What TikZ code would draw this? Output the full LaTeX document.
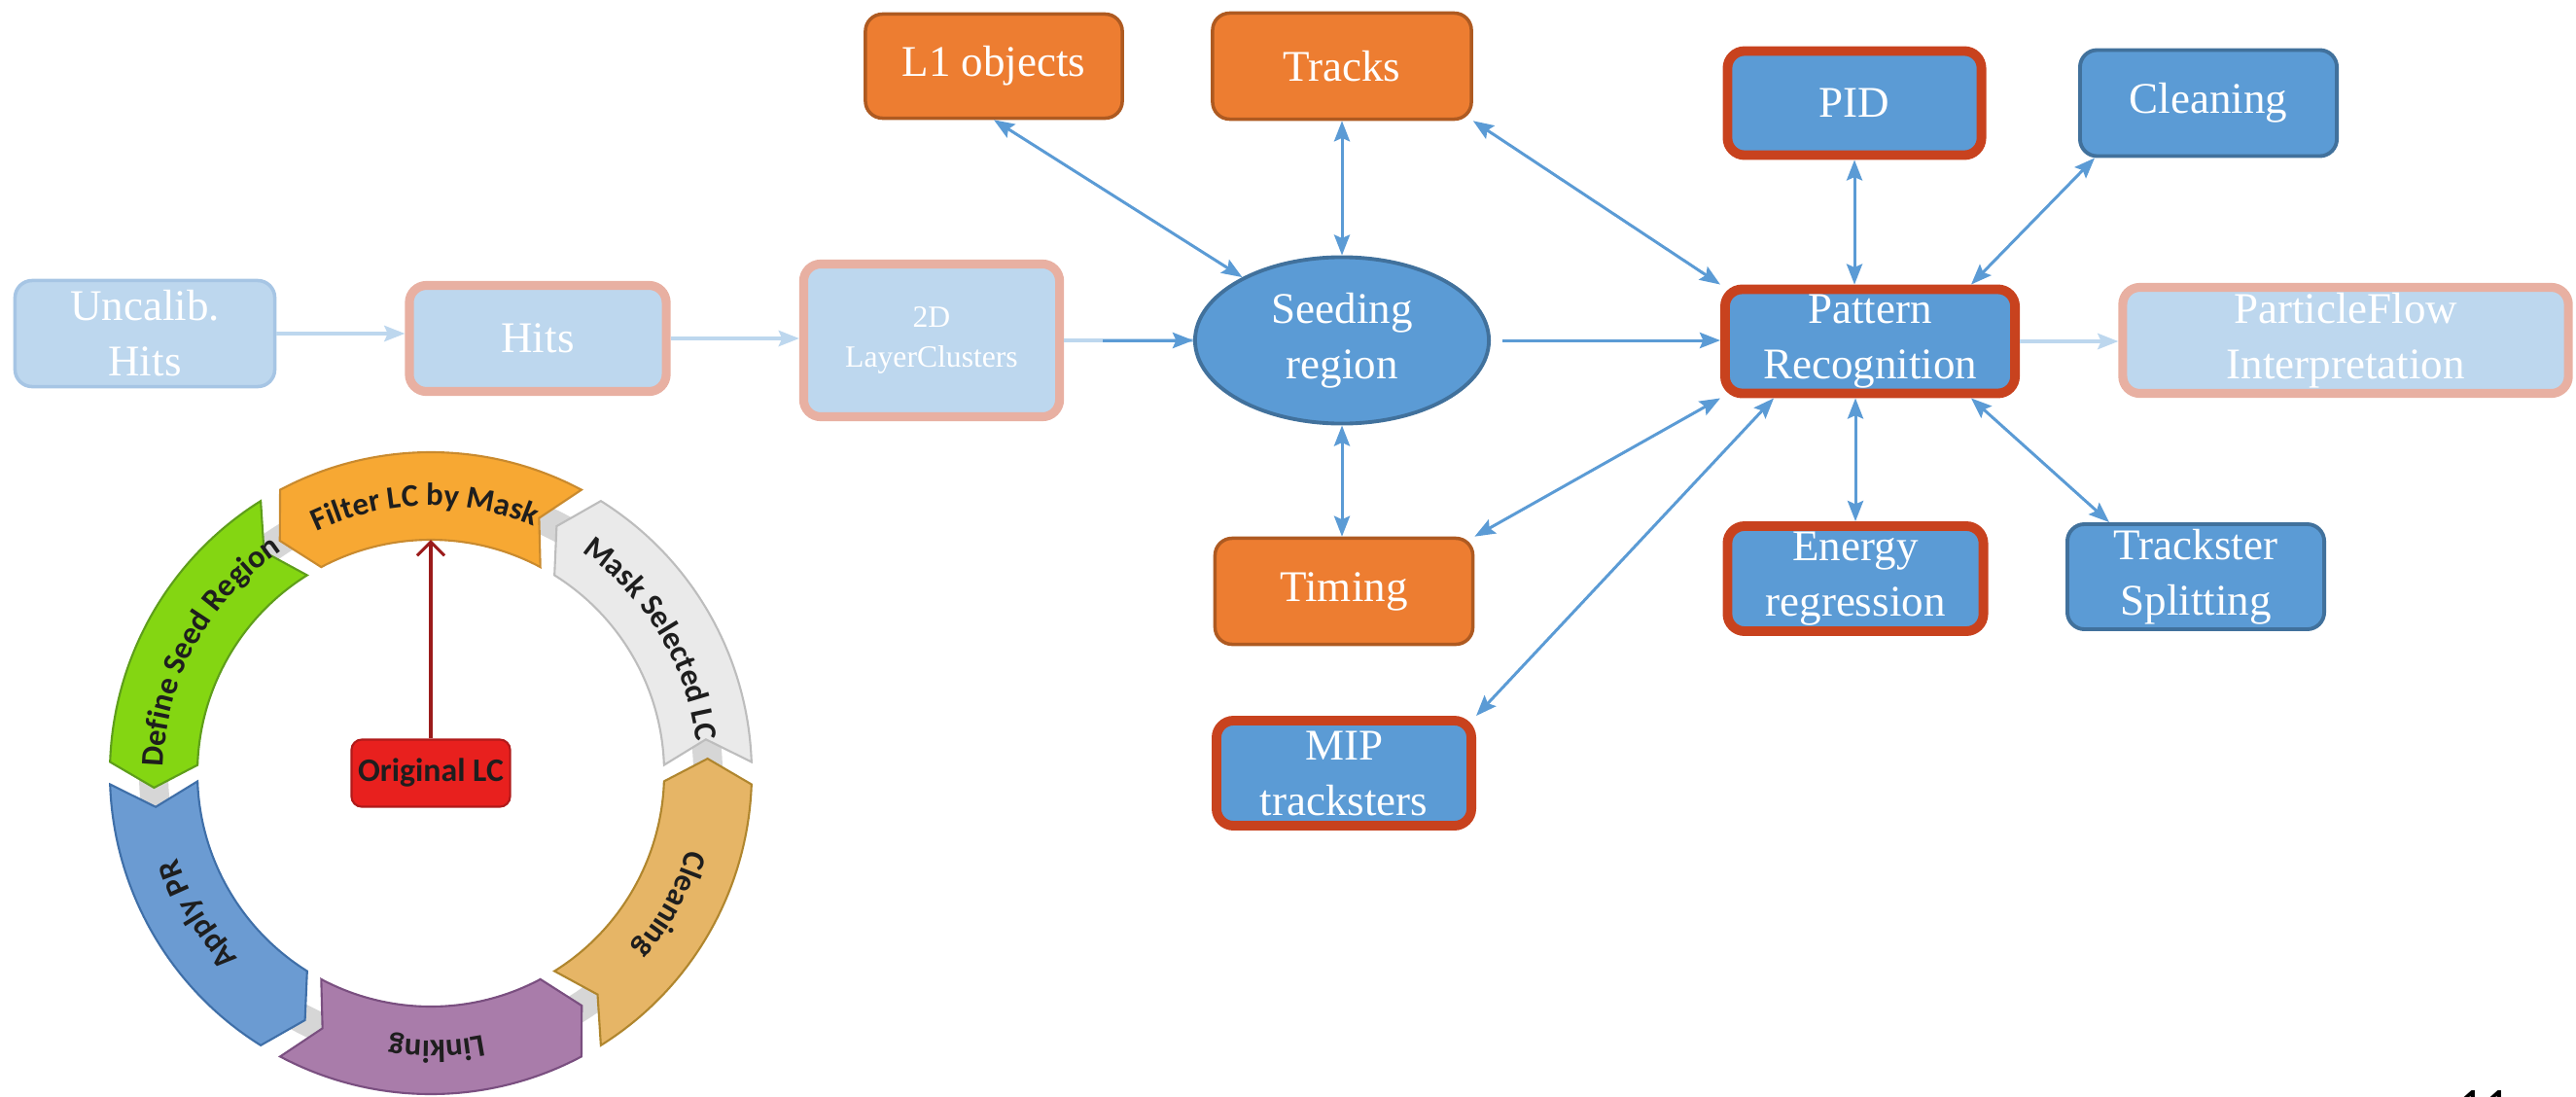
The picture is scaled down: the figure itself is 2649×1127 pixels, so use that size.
\documentclass[tikz,border=0pt]{standalone}
\usepackage{fontspec}
\usetikzlibrary{arrows.meta,shapes.geometric,decorations.text,calc}
\newfontfamily\garafont{Liberation Serif}
\newfontfamily\ringfont{Carlito}
\definecolor{orF}{HTML}{ED7D31}
\definecolor{orD}{HTML}{AE5A21}
\definecolor{blF}{HTML}{5B9BD5}
\definecolor{blD}{HTML}{41719C}
\definecolor{redB}{HTML}{C8421E}
\definecolor{faF}{HTML}{BDD7EE}
\definecolor{faD}{HTML}{A6C5E4}
\definecolor{pkB}{HTML}{E8B0A2}
\definecolor{arB}{HTML}{5B9BD5}
\definecolor{arF}{HTML}{BDD7EE}
\definecolor{mkF}{HTML}{EAEAEA}
\definecolor{mkD}{HTML}{BDBDBD}
\definecolor{fiF}{HTML}{F7A833}
\definecolor{fiD}{HTML}{C98A2E}
\definecolor{dfF}{HTML}{84D612}
\definecolor{dfD}{HTML}{5E9E1A}
\definecolor{apF}{HTML}{6B9BD2}
\definecolor{apD}{HTML}{3F6FA8}
\definecolor{lkF}{HTML}{A97CAA}
\definecolor{lkD}{HTML}{7A4F80}
\definecolor{clF}{HTML}{E6B566}
\definecolor{clD}{HTML}{B0862E}
\definecolor{gapG}{HTML}{D6D6D6}
\definecolor{olF}{HTML}{E8201E}
\definecolor{olD}{HTML}{B01A1A}
\definecolor{dkred}{HTML}{9B1B1B}
\definecolor{ringtxt}{HTML}{1E1E1E}
\newcommand\ringseg[5]{%
  \filldraw[fill=#3, draw=#4, line width=0.6pt]
    ({#1+2}:330) arc[start angle={#1+2}, end angle={#2-2}, radius=330]
    -- ({#2+3}:285) -- ({#2-2}:240)
    arc[start angle={#2-2}, end angle={#1+2}, radius=240]
    -- ({#1+7}:285) -- cycle;
  \path[decorate, decoration={text along path, text align=center, text color=ringtxt,
      text={|\ringfont\bfseries\fontsize{9.3}{11}\selectfont|#5}}]
    ({#2-0.5}:275) arc[start angle={#2-0.5}, end angle={#1+3}, radius=275];
}
\tikzset{
  box/.style={rectangle, rounded corners=5pt, align=center, text=white, inner sep=0pt,
    font=\garafont\fontsize{12.8}{16.2}\selectfont},
  orbox/.style={box, fill=orF, draw=orD, line width=1pt},
  blbox/.style={box, fill=blF, draw=blD, line width=1.1pt},
  rdbox/.style={box, fill=blF, draw=redB, line width=2.8pt},
  fabox/.style={box, fill=faF, draw=faD, line width=1pt},
  pkbox/.style={box, fill=faF, draw=pkB, line width=2.6pt},
  tipS/.tip={Stealth[length=6pt,width=4.6pt,inset=1pt]},
  link/.style={draw=arB, line width=0.85pt, tipS-tipS},
  flow/.style={draw=arB, line width=0.85pt, -tipS},
  fadeflow/.style={draw=arF, line width=1.1pt, -tipS},
  ringlink/.style={draw=gapG, line width=0.3cm},
}
\begin{document}
\begin{tikzpicture}[x=0.01cm, y=-0.01cm]
\useasboundingbox (0,0) rectangle (2649,1127);

% ---- nodes of the flow diagram
\node[fabox, minimum width=2.67cm, minimum height=1.09cm] (uncal) at (149,343) {Uncalib.\\Hits};
\node[pkbox, minimum width=2.64cm, minimum height=1.09cm] (hits) at (553,348) {Hits};
\node[pkbox, minimum width=2.63cm, minimum height=1.57cm, font=\garafont\fontsize{9}{11.7}\selectfont] (lc2d) at (958,350) {2D\\LayerClusters};
\node[ellipse, fill=blF, draw=blD, line width=1.1pt, minimum width=3.02cm, minimum height=1.71cm, inner sep=0pt, align=center, text=white, font=\garafont\fontsize{12.8}{16.2}\selectfont] (seed) at (1380,350) {Seeding\\region};
\node[rdbox, minimum width=2.98cm, minimum height=1.07cm] (pr) at (1923,351) {Pattern\\Recognition};
\node[pkbox, minimum width=4.58cm, minimum height=1.09cm] (pf) at (2412,350) {ParticleFlow\\Interpretation};

\node[orbox, minimum width=2.64cm, minimum height=1.07cm] (l1) at (1022,68) {L1 objects};
\node[orbox, minimum width=2.66cm, minimum height=1.09cm] (tracks) at (1380,68) {Tracks};
\node[rdbox, minimum width=2.61cm, minimum height=1.07cm] (pid) at (1907,106) {PID};
\node[blbox, minimum width=2.64cm, minimum height=1.09cm] (clean) at (2271,106) {Cleaning};

\node[orbox, minimum width=2.65cm, minimum height=1.09cm] (timing) at (1382,608) {Timing};
\node[rdbox, minimum width=2.62cm, minimum height=1.08cm] (mip) at (1382,795) {MIP\\tracksters};
\node[rdbox, minimum width=2.63cm, minimum height=1.08cm] (energy) at (1908,595) {Energy\\regression};
\node[blbox, minimum width=2.64cm, minimum height=1.08cm] (ts) at (2258,593) {Trackster\\Splitting};

% ---- flow arrows
\draw[fadeflow] (uncal.east) -- (uncal.east -| hits.west);
\draw[fadeflow] (hits.east) -- (hits.east -| lc2d.west);
\draw[draw=arF, line width=1.1pt] (lc2d.east) -- (lc2d.east -| seed.west);
\draw[flow, shorten <=0.4cm] (lc2d.east) -- (lc2d.east -| seed.west);
\draw[flow, shorten <=0.12cm] (seed.east) -- (seed.east -| pr.west);
\draw[fadeflow] (pr.east) -- (pr.east -| pf.west);

% ---- two-way links
\draw[link] (l1.south) -- (seed);
\draw[link] (tracks.south) -- (seed.north);
\draw[link] (tracks.south east) -- (pr.north west);
\draw[link] (pid.south) -- (pid.south |- pr.north);
\draw[link] ([xshift=0.17cm]clean.south west) -- ([xshift=-0.5cm]pr.north east);
\draw[link] (seed.south) -- (seed.south |- timing.north);
\draw[link] (timing.north east) -- (pr.south west);
\draw[link] (mip.north east) -- ([xshift=0.55cm]pr.south west);
\draw[link] (energy.north) -- (energy.north |- pr.south);
\draw[link] ([xshift=-0.5cm]pr.south east) -- ([xshift=0.45cm]ts.north west);

% ---- cycle diagram
\begin{scope}[shift={(443,795)}, x=0.01cm, y=0.01cm]
  \foreach \a in {0,60,120,180,240,300}
    \draw[ringlink] ({\a-7}:285) arc[start angle={\a-7}, end angle={\a+7}, radius=285];
  \ringseg{0}{60}{mkF}{mkD}{Mask Selected LC}
  \ringseg{60}{120}{fiF}{fiD}{Filter LC by Mask}
  \ringseg{120}{180}{dfF}{dfD}{Define Seed Region}
  \ringseg{180}{240}{apF}{apD}{Apply PR}
  \ringseg{240}{300}{lkF}{lkD}{Linking}
  \ringseg{300}{360}{clF}{clD}{Cleaning}
  \coordinate (fin) at (90:240);
\end{scope}
\node[draw=olD, fill=olF, rounded corners=3pt, line width=0.6pt, minimum width=1.63cm, minimum height=0.69cm, inner sep=0pt,
  font=\ringfont\bfseries\fontsize{9.6}{11}\selectfont, text=ringtxt] (orig) at (443,795) {Original LC};
\draw[draw=dkred, line width=0.9pt, -{Straight Barb[length=4pt]}] (orig.north) -- (fin);

% ---- page number (cut by the frame)
\node[anchor=north, inner sep=0pt, font=\ringfont\fontsize{15}{17}\selectfont] (pg) at (2554,1121) {11};
\end{tikzpicture}
\end{document}
